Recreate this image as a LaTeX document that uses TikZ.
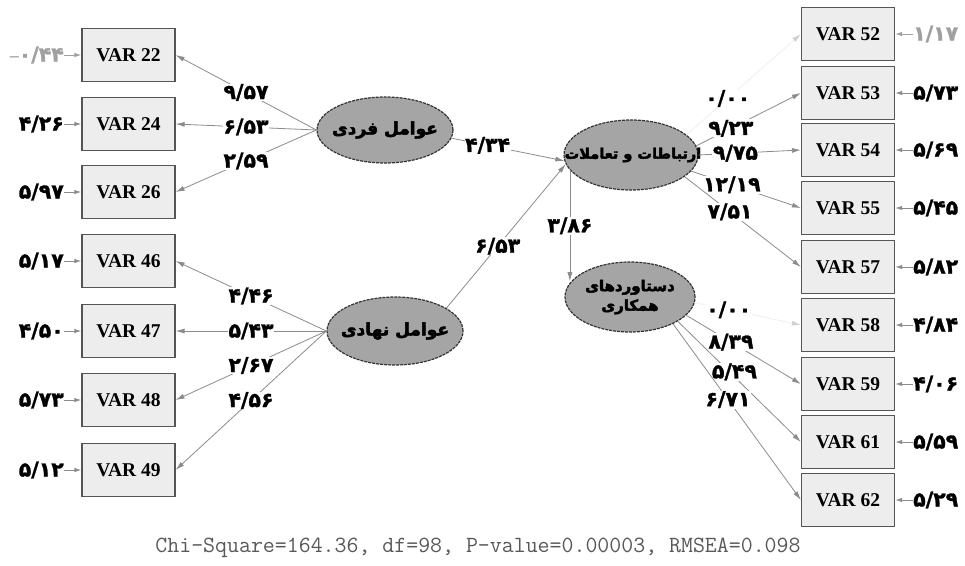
\documentclass[tikz,border=0pt]{standalone}
\usepackage{fontspec}
\setmainfont{Liberation Serif}
\newfontfamily\fa[Script=Arabic,BoldFeatures={FakeBold=1.3}]{DejaVu Sans}
\newfontfamily\faheavy[Script=Arabic,BoldFeatures={FakeBold=3}]{DejaVu Sans}
\TeXXeTstate=1
\usetikzlibrary{shapes.geometric,arrows.meta}
\definecolor{linegray}{HTML}{8C8C8C}
\definecolor{latfill}{HTML}{A5A5A5}
\definecolor{boxfill}{HTML}{EDEDED}
\definecolor{boxdraw}{HTML}{555555}
\definecolor{faint}{HTML}{EFEFEF}
\definecolor{fainttip}{HTML}{CFCFCF}
\definecolor{fainttext}{HTML}{A0A0A0}
\begin{document}
\begin{tikzpicture}[x=1pt,y=-1pt,
 obs/.style={draw=boxdraw, line width=1.2pt, fill=boxfill, minimum width=93pt, minimum height=53pt, inner sep=0pt, font=\fontsize{19.5}{20}\selectfont\bfseries},
 latent/.style={ellipse, draw=black!80, dash pattern=on 3pt off 1pt, line width=1.2pt, fill=latfill, inner sep=0pt},
 load/.style={draw=linegray, line width=0.8pt, -{Latex[length=9pt,width=5pt]}},
 faintload/.style={draw=faint, line width=0.8pt, -{Latex[length=9pt,width=5pt,color=fainttip]}},
 errarrow/.style={draw=linegray, line width=1pt, -{Latex[length=7pt,width=4.5pt]}},
 coef/.style={font=\fa\bfseries\fontsize{20.5}{22}\selectfont, fill=white, inner sep=0.5pt},
 errnum/.style={font=\fa\bfseries\fontsize{20.5}{22}\selectfont, inner sep=0pt},
]
\useasboundingbox (0,0) rectangle (965,565);
\fill[white] (0,0) rectangle (965,565);

% observed variables, left
\node[obs] (v22) at (128.5,55) {VAR 22};
\node[obs] (v24) at (128.5,124) {VAR 24};
\node[obs] (v26) at (128.5,192) {VAR 26};
\node[obs] (v46) at (128.5,261) {VAR 46};
\node[obs] (v47) at (128.5,331) {VAR 47};
\node[obs] (v48) at (128.5,400) {VAR 48};
\node[obs] (v49) at (128.5,470) {VAR 49};
% observed variables, right
\node[obs] (v52) at (848,34) {VAR 52};
\node[obs] (v53) at (848,93) {VAR 53};
\node[obs] (v54) at (848,150) {VAR 54};
\node[obs] (v55) at (848,208) {VAR 55};
\node[obs] (v57) at (848,267) {VAR 57};
\node[obs] (v58) at (848,325) {VAR 58};
\node[obs] (v59) at (848,384) {VAR 59};
\node[obs] (v61) at (848,442) {VAR 61};
\node[obs] (v62) at (848,500) {VAR 62};

% latent variables
\node[latent, minimum width=136pt, minimum height=66pt] (F1) at (385,130)
  {\makebox[0pt]{\fontsize{17}{20}\faheavy\bfseries\beginR عوامل فردی\endR}};
\node[latent, minimum width=136pt, minimum height=68pt] (F2) at (395,331)
  {\makebox[0pt]{\fontsize{17}{20}\faheavy\bfseries\beginR عوامل نهادی\endR}};
\node[latent, minimum width=134pt, minimum height=70pt] (E1) at (631,155)
  {\makebox[0pt]{\kern4pt\fontsize{14.5}{17}\faheavy\bfseries\beginR ارتباطات و تعاملات\endR}};
\node[latent, minimum width=130pt, minimum height=70pt] (E2) at (630,297)
  {\makebox[0pt]{\fontsize{15}{19.5}\faheavy\bfseries\begin{tabular}{@{}c@{}}\beginR دستاوردهای\endR\\\beginR همکاری\endR\end{tabular}}};

% loadings, left
\draw[load] (F1.west) -- node[coef,pos=0.5]{۹/۵۷} (v22.east);
\draw[load] (F1.west) -- node[coef,pos=0.5]{۶/۵۳} (v24.east);
\draw[load] (F1.west) -- node[coef,pos=0.5]{۲/۵۹} (v26.east);
\draw[load] (F2.west) -- node[coef,pos=0.5]{۴/۴۶} (v46.east);
\draw[load] (F2.west) -- node[coef,pos=0.5]{۵/۴۳} (v47.east);
\draw[load] (F2.west) -- node[coef,pos=0.5]{۲/۶۷} (v48.east);
\draw[load] (F2.west) -- node[coef,pos=0.5]{۴/۵۶} (v49.east);

% structural paths
\draw[load] (F1.-7) -- node[coef,pos=0.32]{۴/۳۴} (E1.185);
\draw[load] (F2.24) -- node[coef,pos=0.43]{۶/۵۳} (E1.188);
\draw[load] (E1.194) -- node[coef,pos=0.5]{۳/۸۶} (E1.194 |- E2.165);

% loadings, right
\draw[faintload] (E1.20) -- node[coef,pos=0.36]{۰/۰۰} (v52.west);
\draw[load] (E1.8) -- node[coef,pos=0.33]{۹/۲۳} (v53.west);
\draw[load] (E1.east) -- node[coef,pos=0.36]{۹/۷۵} (v54.west);
\draw[load] (E1.-15) -- node[coef,pos=0.37]{۱۲/۱۹} (v55.west);
\draw[load] (E1.-22.5) -- node[coef,pos=0.39]{۷/۵۱} (v57.west);
\draw[faintload] (E2.-5) -- node[coef,pos=0.32]{۰/۰۰} (v58.west);
\draw[load] (E2.-18) -- node[coef,pos=0.39]{۸/۳۹} (v59.west);
\draw[load] (E2.-27) -- node[coef,pos=0.46,yshift=5pt]{۵/۴۹} (v61.west);
\draw[load] (E2.-32) -- node[coef,pos=0.43]{۶/۷۱} (v62.west);

% error terms, left
\node[errnum, anchor=east, text=fainttext] (e22) at (64,55) {{\rmfamily\bfseries\fontsize{18}{20}\selectfont –}۰/۴۴};
\node[errnum, anchor=east] (e24) at (64,124) {۴/۲۶};
\node[errnum, anchor=east] (e26) at (64,192) {۵/۹۷};
\node[errnum, anchor=east] (e46) at (64,261) {۵/۱۷};
\node[errnum, anchor=east] (e47) at (64,331) {۴/۵۰};
\node[errnum, anchor=east] (e48) at (64,400) {۵/۷۳};
\node[errnum, anchor=east] (e49) at (64,470) {۵/۱۲};
\draw[errarrow, draw=fainttext] (e22.east) -- (v22.west);
\draw[errarrow] (e24.east) -- (v24.west);
\draw[errarrow] (e26.east) -- (v26.west);
\draw[errarrow] (e46.east) -- (v46.west);
\draw[errarrow] (e47.east) -- (v47.west);
\draw[errarrow] (e48.east) -- (v48.west);
\draw[errarrow] (e49.east) -- (v49.west);

% error terms, right
\node[errnum, anchor=west, text=fainttext] (e52) at (913,34) {۱/۱۷};
\node[errnum, anchor=west] (e53) at (913,93) {۵/۷۳};
\node[errnum, anchor=west] (e54) at (913,150) {۵/۶۹};
\node[errnum, anchor=west] (e55) at (913,208) {۵/۴۵};
\node[errnum, anchor=west] (e57) at (913,267) {۵/۸۲};
\node[errnum, anchor=west] (e58) at (913,325) {۴/۸۴};
\node[errnum, anchor=west] (e59) at (913,384) {۴/۰۶};
\node[errnum, anchor=west] (e61) at (913,442) {۵/۵۹};
\node[errnum, anchor=west] (e62) at (913,500) {۵/۲۹};
\draw[errarrow, draw=fainttext] (e52.west) -- (v52.east);
\draw[errarrow] (e53.west) -- (v53.east);
\draw[errarrow] (e54.west) -- (v54.east);
\draw[errarrow] (e55.west) -- (v55.east);
\draw[errarrow] (e57.west) -- (v57.east);
\draw[errarrow] (e58.west) -- (v58.east);
\draw[errarrow] (e59.west) -- (v59.east);
\draw[errarrow] (e61.west) -- (v61.east);
\draw[errarrow] (e62.west) -- (v62.east);

% fit statistics
\node[font=\ttfamily\fontsize{23.2}{24}\selectfont, text=black!65] (fit) at (478,548)
  {Chi-Square=164.36, df=98, P-value=0.00003, RMSEA=0.098};
\end{tikzpicture}
\end{document}
